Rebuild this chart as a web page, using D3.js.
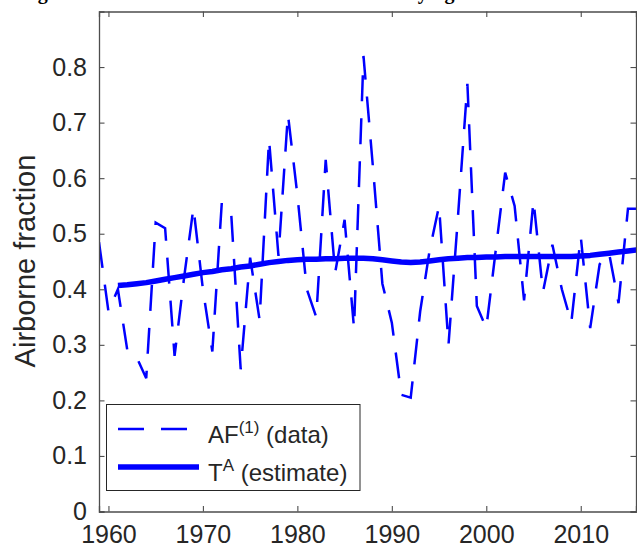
<!DOCTYPE html>
<html lang="en">
<head>
  <meta charset="UTF-8">
  <title>Airborne fraction</title>
  <script src="https://d3js.org/d3.v7.min.js"></script>
  <style>
    body { margin: 0; background: #fff; }
    text { font-family: "Liberation Sans", Arial, Helvetica, sans-serif; fill: #262626; }
  </style>
</head>
<body>
  <div id="chart"></div>
  <script type="text/javascript">
    // annual airborne fraction
    var afYears = d3.range(1959, 2017);
    var afValues = [0.485, 0.36, 0.40, 0.29, 0.277, 0.24, 0.52, 0.51, 0.28, 0.42,
                    0.547, 0.40, 0.288, 0.556, 0.535, 0.256, 0.457, 0.345, 0.67, 0.46,
                    0.715, 0.57, 0.40, 0.35, 0.633, 0.43, 0.525, 0.33, 0.82, 0.62,
                    0.41, 0.34, 0.21, 0.205, 0.36, 0.47, 0.55, 0.30, 0.53, 0.77,
                    0.37, 0.33, 0.47, 0.61, 0.55, 0.38, 0.56, 0.395, 0.48, 0.40,
                    0.34, 0.495, 0.33, 0.445, 0.465, 0.375, 0.545, 0.545];

    // smooth trend estimate T^A
    var trendYears = d3.range(1961, 2017);
    var trendValues = [0.407, 0.408, 0.410, 0.412, 0.415, 0.418, 0.421, 0.424, 0.427, 0.430,
                       0.432, 0.435, 0.437, 0.440, 0.442, 0.445, 0.448, 0.450, 0.452, 0.453,
                       0.454, 0.454, 0.455, 0.455, 0.456, 0.456, 0.456, 0.455, 0.453, 0.451,
                       0.449, 0.448, 0.449, 0.451, 0.453, 0.455, 0.456, 0.457, 0.457, 0.458,
                       0.458, 0.459, 0.459, 0.459, 0.459, 0.459, 0.459, 0.459, 0.459, 0.460,
                       0.461, 0.463, 0.465, 0.467, 0.469, 0.471];

    var xTicks = [1960, 1970, 1980, 1990, 2000, 2010];
    var yTicks = [0, 0.1, 0.2, 0.3, 0.4, 0.5, 0.6, 0.7, 0.8];

    var W = 637, H = 555;
    var pLeft = 99, pRight = 636, pTop = 11.5, pBottom = 511.5;

    var svg = d3.select("#chart").append("svg")
      .attr("width", W).attr("height", H);

    // caption of the figure, cut off by the top edge (only descenders show)
    svg.append("text")
      .attr("x", 20).attr("y", -1.5)
      .style("font-family", "'Liberation Serif', 'Times New Roman', serif")
      .style("font-weight", "bold")
      .style("font-size", "20px")
      .style("fill", "#000")
      .text("Figure 3. Univariate estimation of the time-varying airborne fraction.");

    var x = d3.scaleLinear().domain([1959, 2015.85]).range([pLeft, pRight]);
    var y = d3.scaleLinear().domain([0, 0.9]).range([pBottom, pTop]);

    svg.append("defs").append("clipPath").attr("id", "clip")
      .append("rect")
      .attr("x", pLeft).attr("y", pTop)
      .attr("width", pRight - pLeft).attr("height", pBottom - pTop);

    var plot = svg.append("g").attr("clip-path", "url(#clip)");

    var line = d3.line()
      .x(function (d) { return x(d[0]); })
      .y(function (d) { return y(d[1]); });

    var afData = afYears.map(function (yr, i) { return [yr, afValues[i]]; });
    var trendData = trendYears.map(function (yr, i) { return [yr, trendValues[i]]; });

    plot.append("path")
      .datum(afData)
      .attr("d", line)
      .attr("fill", "none")
      .attr("stroke", "#0000ff")
      .attr("stroke-width", 2.5)
      .attr("stroke-dasharray", "26,17");

    plot.append("path")
      .datum(trendData)
      .attr("d", line)
      .attr("fill", "none")
      .attr("stroke", "#0000ff")
      .attr("stroke-width", 5.5)
      .attr("stroke-linejoin", "round");

    // axes: box with inward ticks
    var axisColor = "#4d4d4d";
    var tickLen = 5.5;

    var xAxisB = d3.axisBottom(x).tickValues(xTicks).tickSize(-tickLen).tickPadding(14)
      .tickFormat(d3.format("d"));
    var xAxisT = d3.axisTop(x).tickValues(xTicks).tickSize(-tickLen).tickFormat("");
    var yAxisL = d3.axisLeft(y).tickValues(yTicks).tickSize(-tickLen).tickPadding(12)
      .tickFormat(function (d) { return d === 0 ? "0" : d3.format(".1f")(d); });
    var yAxisR = d3.axisRight(y).tickValues(yTicks).tickSize(-tickLen).tickFormat("");

    function style(g) {
      g.select(".domain").attr("stroke", axisColor).attr("stroke-width", 1.3);
      g.selectAll(".tick line").attr("stroke", axisColor).attr("stroke-width", 1.1);
      g.selectAll(".tick text")
        .style("font-family", "'Liberation Sans', Arial, Helvetica, sans-serif")
        .style("font-size", "25px")
        .attr("fill", "#262626");
    }

    svg.append("g").attr("transform", "translate(0," + pBottom + ")").call(xAxisB).call(style);
    svg.append("g").attr("transform", "translate(0," + pTop + ")").call(xAxisT).call(style);
    svg.append("g").attr("transform", "translate(" + pLeft + ",0)").call(yAxisL).call(style);
    svg.append("g").attr("transform", "translate(" + pRight + ",0)").call(yAxisR).call(style);

    // y label
    svg.append("text")
      .attr("transform", "translate(35,261) rotate(-90)")
      .attr("text-anchor", "middle")
      .style("font-size", "29px")
      .text("Airborne fraction");

    // legend
    var lg = svg.append("g");
    lg.append("rect")
      .attr("x", 106.5).attr("y", 404.5)
      .attr("width", 253.5).attr("height", 86)
      .attr("fill", "#fff")
      .attr("stroke", "#262626")
      .attr("stroke-width", 1);

    lg.append("line")
      .attr("x1", 118).attr("x2", 198).attr("y1", 429).attr("y2", 429)
      .attr("stroke", "#0000ff").attr("stroke-width", 2.5)
      .attr("stroke-dasharray", "26,17");
    lg.append("line")
      .attr("x1", 118).attr("x2", 199).attr("y1", 467).attr("y2", 467)
      .attr("stroke", "#0000ff").attr("stroke-width", 5.5);

    var t1 = lg.append("text").attr("x", 208).attr("y", 443).style("font-size", "24px");
    t1.append("tspan").text("AF");
    t1.append("tspan").attr("dy", -10).style("font-size", "17px").text("(1)");
    t1.append("tspan").attr("dy", 10).text(" (data)");

    var t2 = lg.append("text").attr("x", 208).attr("y", 481).style("font-size", "24px");
    t2.append("tspan").text("T");
    t2.append("tspan").attr("dy", -10).style("font-size", "17px").text("A");
    t2.append("tspan").attr("dy", 10).text(" (estimate)");
  </script>
</body>
</html>
